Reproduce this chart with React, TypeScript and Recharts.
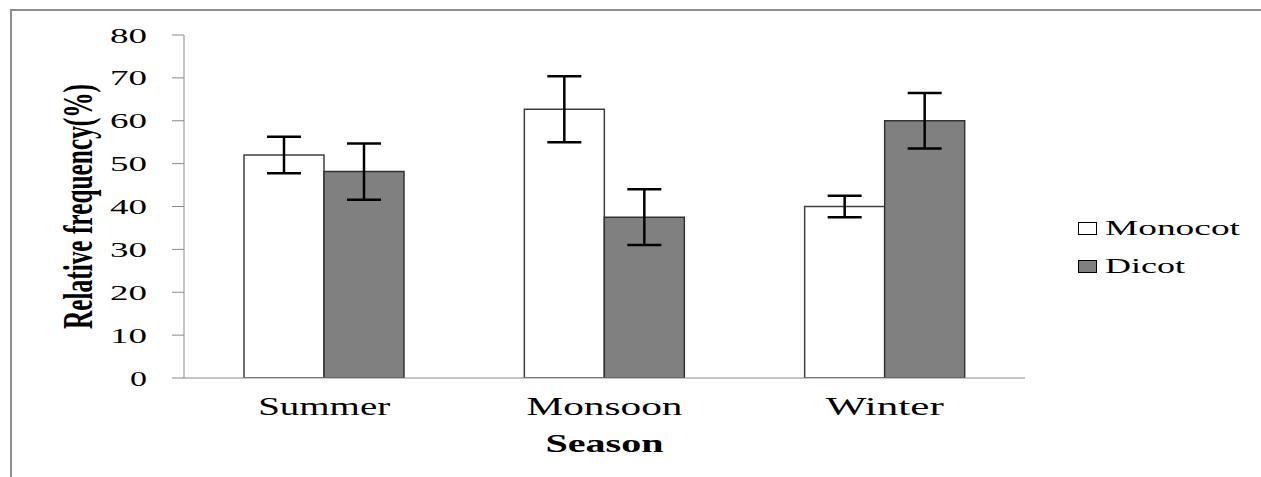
import React from 'react';
import { BarChart, Bar, XAxis, YAxis, ErrorBar, Legend, Label } from 'recharts';

const seasons = ['Summer', 'Monsoon', 'Winter'];
const monocot = [52, 62.7, 40];
const monocotErr = [4.25, 7.7, 2.5];
const dicot = [48.15, 37.5, 60];
const dicotErr = [6.55, 6.5, 6.5];
const yTicks = [0, 10, 20, 30, 40, 50, 60, 70, 80];
const edgeTicks = [0, 1, 2, 3];
const seriesNames = ['Monocot', 'Dicot'];

const data = seasons.map((s, i) => ({
  season: s,
  Monocot: monocot[i],
  monocotErr: monocotErr[i],
  Dicot: dicot[i],
  dicotErr: dicotErr[i],
}));

const SERIF = "'Liberation Serif', 'DejaVu Serif', serif";
const AXIS = '#8a8a8a';
const xLen: Record<string, number> = { Summer: 132, Monsoon: 156, Winter: 118 };

const YTick = (props: any) => {
  const { x, y, payload } = props;
  const s = String(payload.value);
  return (
    <text x={x} y={y} dy={7.5} textAnchor="end" style={{ fontFamily: SERIF, fontSize: 22 }} fill="#000"
      textLength={s.length === 1 ? 17 : 37} lengthAdjust="spacingAndGlyphs">{s}</text>
  );
};

const XTick = (props: any) => {
  const { x, y, payload } = props;
  const s = String(payload.value);
  return (
    <text x={x} y={y} dy={37} textAnchor="middle" style={{ fontFamily: SERIF, fontSize: 26 }} fill="#000"
      textLength={xLen[s] || 120} lengthAdjust="spacingAndGlyphs">{s}</text>
  );
};

const SeasonLabel = (props: any) => {
  const vb = props.viewBox || {};
  const cx = vb.x + vb.width / 2;
  return (
    <text x={cx} y={vb.y + 74} textAnchor="middle" style={{ fontFamily: SERIF, fontSize: 26, fontWeight: 'bold' }} fill="#000"
      textLength={118} lengthAdjust="spacingAndGlyphs">Season</text>
  );
};

const YLabel = (props: any) => {
  const vb = props.viewBox || {};
  const cy = vb.y + vb.height / 2;
  const bx = 92;
  return (
    <text x={bx} y={cy} transform={`rotate(-90, ${bx}, ${cy})`} textAnchor="middle"
      style={{ fontFamily: SERIF, fontSize: 42, fontWeight: 'bold' }} fill="#000" textLength={245} lengthAdjust="spacingAndGlyphs">
      Relative frequency(%)
    </text>
  );
};

const legendLen: Record<string, number> = { Monocot: 135, Dicot: 80 };

const LegendContent = (props: any) => {
  const payload = [...(props.payload || [])].sort(
    (a: any, b: any) => seriesNames.indexOf(a.value) - seriesNames.indexOf(b.value)
  );
  return (
    <svg width={180} height={70} style={{ display: 'block', overflow: 'visible' }}>
      {payload.map((p: any, i: number) => (
        <g key={p.value} transform={`translate(0, ${i * 38})`}>
          <rect x={0.5} y={4.5} width={18} height={12} fill={p.color} stroke="#000" strokeWidth={1} />
          <text x={27} y={17} style={{ fontFamily: SERIF, fontSize: 22 }} fill="#000"
            textLength={legendLen[p.value] || 100} lengthAdjust="spacingAndGlyphs">{p.value}</text>
        </g>
      ))}
    </svg>
  );
};

export default function App() {
  return (
    <div style={{ position: 'absolute', left: 0, top: 0, width: 1261, height: 477, background: '#fff' }}>
      <div style={{ position: 'absolute', left: 10, top: 9, width: 1251, height: 468, borderTop: '2px solid #8e8e8e', borderLeft: '2px solid #8e8e8e' }} />
      <BarChart width={1261} height={477} data={data} barSize={80} barGap={0}
        margin={{ top: 35, right: 236, bottom: 39, left: 0 }}
        style={{ position: 'absolute', left: 0, top: 0 }}>
        <XAxis xAxisId="edges" type="number" domain={[0, 3]} ticks={edgeTicks} tick={false}
          axisLine={false} tickLine={{ stroke: AXIS, strokeWidth: 1 }} tickSize={7} height={0} allowDataOverflow />
        <XAxis dataKey="season" height={60} tick={<XTick />} tickLine={false} tickSize={0} tickMargin={0}
          axisLine={{ stroke: AXIS, strokeWidth: 1 }} interval={0}>
          <Label content={<SeasonLabel />} />
        </XAxis>
        <YAxis width={184} domain={[0, 80]} ticks={yTicks} tick={<YTick />} tickSize={12} tickMargin={25}
          axisLine={{ stroke: AXIS, strokeWidth: 1 }} tickLine={{ stroke: AXIS, strokeWidth: 1 }} allowDataOverflow>
          <Label content={<YLabel />} />
        </YAxis>
        <Legend layout="horizontal" align="center" verticalAlign="middle" content={<LegendContent />}
          wrapperStyle={{ left: 1078, top: 218, width: 180, height: 70 }} />
        <Bar dataKey="Monocot" name="Monocot" fill="#ffffff" stroke="#404040" strokeWidth={1.5} isAnimationActive={false}>
          <ErrorBar dataKey="monocotErr" width={17} stroke="#000" strokeWidth={2.5} direction="y" />
        </Bar>
        <Bar dataKey="Dicot" name="Dicot" fill="#808080" stroke="#333333" strokeWidth={1.5} isAnimationActive={false}>
          <ErrorBar dataKey="dicotErr" width={17} stroke="#000" strokeWidth={2.5} direction="y" />
        </Bar>
      </BarChart>
    </div>
  );
}
